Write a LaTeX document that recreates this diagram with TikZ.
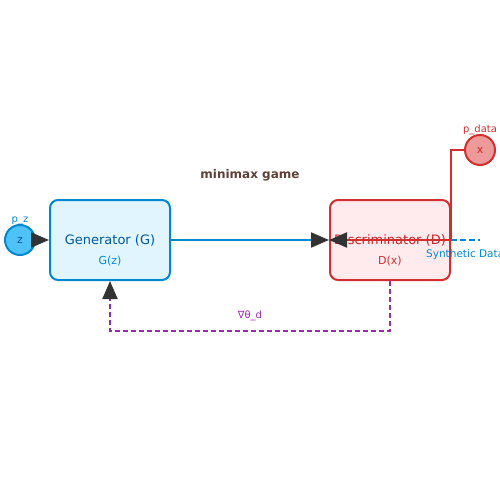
\documentclass[tikz,border=0pt]{standalone}
\usepackage{fontspec}
\setmainfont{DejaVu Sans}
\usetikzlibrary{arrows.meta}
\definecolor{genblue}{HTML}{0288D1}
\definecolor{gendark}{HTML}{01579B}
\definecolor{genfill}{HTML}{E1F5FE}
\definecolor{zfill}{HTML}{4FC3F7}
\definecolor{discred}{HTML}{D32F2F}
\definecolor{discdark}{HTML}{C62828}
\definecolor{discfill}{HTML}{FFEBEE}
\definecolor{xfill}{HTML}{EF9A9A}
\definecolor{feedpurple}{HTML}{9C27B0}
\definecolor{gamebrown}{HTML}{5D4037}
\definecolor{tipgray}{HTML}{333333}

\begin{document}
\begin{tikzpicture}[x=1pt, y=-1pt,
    block/.style ={rectangle, rounded corners=8pt, line width=2pt, minimum width=120pt, minimum height=80pt},
    source/.style ={circle, line width=2pt, minimum size=30pt, inner sep=0pt, font=\fontsize{11}{13}\selectfont},
    big/.style ={font=\fontsize{13}{15}\selectfont},
    small/.style ={font=\fontsize{11}{13}\selectfont},
    tiny/.style ={font=\fontsize{10}{12}\selectfont},
    head/.style ={-{Triangle[length=18pt, width=15pt, color=tipgray]}}]
   \useasboundingbox (0,0) rectangle (500,500);
   \node[source, draw=genblue, fill=zfill, text=gendark] (z) [label={[tiny, genblue, label distance=-4pt]90:p\_z}] at (20,240) {z};
   \node[source, draw=discred, fill=xfill, text=discdark] (x) [label={[tiny, discred, label distance=-4pt]90:p\_data}] at (480,150) {x};
   \node[block, draw=genblue, fill=genfill] (G) at (110,240) {};
   \node[block, draw=discred, fill=discfill] (D) at (390,240) {};
   \node[big, text=gendark] (Gname) at (110,240) {Generator (G)};
   \node[small, text=genblue] (Gout) at (110,261) {G(z)};
   \node[big, text=discdark] (Dname) at (390,240) {Discriminator (D)};
   \node[small, text=discred] (Dout) at (390,261) {D(x)};
   \node[font=\bfseries\fontsize{12}{14}\selectfont, text=gamebrown] (game) at (250,175) {minimax game};
   \node[font=\fontsize{10.5}{12}\selectfont, text=genblue, anchor=west, inner sep=0pt] (synth) at (426,255) {Synthetic Data};
   \node[tiny, text=feedpurple] (grad) at (250,316) {∇θ\_d};
   \coordinate (synthend) at (480,240);
   \draw[head, tipgray, line width=2pt] (z) to (G);
   \draw[head, genblue, line width=2pt] (G) to (D.west);
   \draw[head, discred, line width=2pt] (x) -| (D.east) -- (D.west);
   \draw[genblue, line width=2pt, dash pattern=on 6pt off 3pt] (D.east) to (synthend);
   \draw[head, feedpurple, line width=2pt, dash pattern=on 5pt off 3pt] (D.south) -- ++(0,50) -| (G.south);
\end{tikzpicture}
\end{document}
